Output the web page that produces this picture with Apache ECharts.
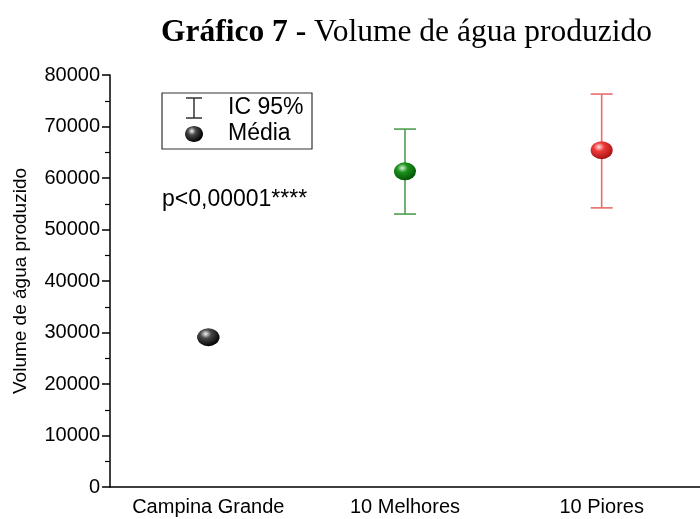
<!DOCTYPE html>
<html><head><meta charset="utf-8">
<script src="https://cdn.jsdelivr.net/npm/echarts@6/dist/echarts.min.js"></script>
<style>html,body{margin:0;padding:0;background:#fff}#c{width:700px;height:519px}</style>
</head><body><div id="c"></div>
<script>
const categories = ['Campina Grande', '10 Melhores', '10 Piores'];
const means = [29100, 61300, 65400];
const ciLow = [28900, 53000, 54200];
const ciHigh = [29300, 69500, 76300];
const yMin = 0, yMax = 80000, yStep = 10000;
const pointColors = [
  ['#f4f4f4', '#4a4a4a', '#000000'],
  ['#d8f0d8', '#1c921c', '#035203'],
  ['#ffe0e0', '#ef3a3a', '#a51212']
];
const barColors = ['#000000', '#4e9e4e', '#e96c6c'];
const titleBold = 'Gráfico 7 -';
const titleRest = ' Volume de água produzido';
const yName = 'Volume de água produzido';
const legendLabels = ['IC 95%', 'Média'];
const pText = 'p<0,00001****';

function sphere(c) {
  return new echarts.graphic.RadialGradient(0.38, 0.32, 0.7, [
    { offset: 0, color: c[0] },
    { offset: 0.35, color: c[1] },
    { offset: 1, color: c[2] }
  ]);
}

const chart = echarts.init(document.getElementById('c'));
const font = 'Liberation Sans, Arial, sans-serif';
const serif = 'Liberation Serif, Times New Roman, serif';
chart.setOption({
  animation: false,
  backgroundColor: '#fff',
  title: {
    text: '{b|' + titleBold + '}{n|' + titleRest + '}',
    left: 156, top: 12,
    textStyle: {
      rich: {
        b: { fontFamily: serif, fontWeight: 'bold', fontSize: 31.5, color: '#000' },
        n: { fontFamily: serif, fontWeight: 'normal', fontSize: 31.5, color: '#000' }
      }
    }
  },
  grid: { left: 110, top: 75, width: 591, bottom: 32, containLabel: false },
  xAxis: {
    type: 'category', data: categories, boundaryGap: true,
    axisLine: { lineStyle: { color: '#000', width: 1.5 } },
    axisTick: { alignWithLabel: true, length: 6, lineStyle: { color: '#000', width: 1.5 } },
    axisLabel: { color: '#000', fontFamily: font, fontSize: 20, margin: 10, interval: 0 }
  },
  yAxis: {
    type: 'value', min: yMin, max: yMax, interval: yStep,
    name: yName, nameLocation: 'middle', nameGap: 80, nameRotate: 90,
    nameTextStyle: { color: '#000', fontFamily: font, fontSize: 19 },
    axisLine: { show: true, lineStyle: { color: '#000', width: 1.5 } },
    axisTick: { show: true, length: 8, lineStyle: { color: '#000', width: 1.5 } },
    minorTick: { show: true, splitNumber: 2, length: 5, lineStyle: { color: '#000', width: 1.2 } },
    splitLine: { show: false },
    axisLabel: { color: '#000', fontFamily: font, fontSize: 20, margin: 10, formatter: v => String(v) }
  },
  series: [
    {
      type: 'custom', name: 'IC 95%', z: 2,
      data: categories.map((c, i) => [i, ciHigh[i], ciLow[i]]),
      encode: { x: 0, y: [1, 2] },
      renderItem: function (params, api) {
        const hi = api.coord([api.value(0), api.value(1)]);
        const lo = api.coord([api.value(0), api.value(2)]);
        const hw = 11;
        const st = { stroke: barColors[params.dataIndex], lineWidth: 1.6 };
        return {
          type: 'group', children: [
            { type: 'line', shape: { x1: hi[0], y1: hi[1], x2: lo[0], y2: lo[1] }, style: st },
            { type: 'line', shape: { x1: hi[0] - hw, y1: hi[1], x2: hi[0] + hw, y2: hi[1] }, style: st },
            { type: 'line', shape: { x1: lo[0] - hw, y1: lo[1], x2: lo[0] + hw, y2: lo[1] }, style: st }
          ]
        };
      }
    },
    {
      type: 'scatter', name: 'Média', z: 3,
      symbol: 'circle', symbolSize: [22, 18],
      itemStyle: { opacity: 1 },
      data: means.map((v, i) => ({ value: [i, v], itemStyle: { color: sphere(pointColors[i]), opacity: 1 } }))
    }
  ],
  graphic: [
    { type: 'rect', shape: { x: 162, y: 93, width: 150, height: 56 }, style: { fill: 'none', stroke: '#333', lineWidth: 1.2 } },
    { type: 'line', shape: { x1: 186, y1: 98, x2: 202, y2: 98 }, style: { stroke: '#333', lineWidth: 1.5 } },
    { type: 'line', shape: { x1: 194, y1: 98, x2: 194, y2: 118 }, style: { stroke: '#333', lineWidth: 1.5 } },
    { type: 'line', shape: { x1: 186, y1: 118, x2: 202, y2: 118 }, style: { stroke: '#333', lineWidth: 1.5 } },
    { type: 'ellipse', shape: { cx: 194, cy: 134, rx: 9, ry: 8 }, style: { fill: sphere(pointColors[0]) } },
    { type: 'text', x: 228, y: 108, style: { text: legendLabels[0], font: '23px Liberation Sans, Arial', fill: '#000', verticalAlign: 'middle' } },
    { type: 'text', x: 228, y: 134, style: { text: legendLabels[1], font: '23px Liberation Sans, Arial', fill: '#000', verticalAlign: 'middle' } },
    { type: 'text', x: 162, y: 200, style: { text: pText, font: '23px Liberation Sans, Arial', fill: '#000', verticalAlign: 'middle' } }
  ]
});
</script></body></html>
